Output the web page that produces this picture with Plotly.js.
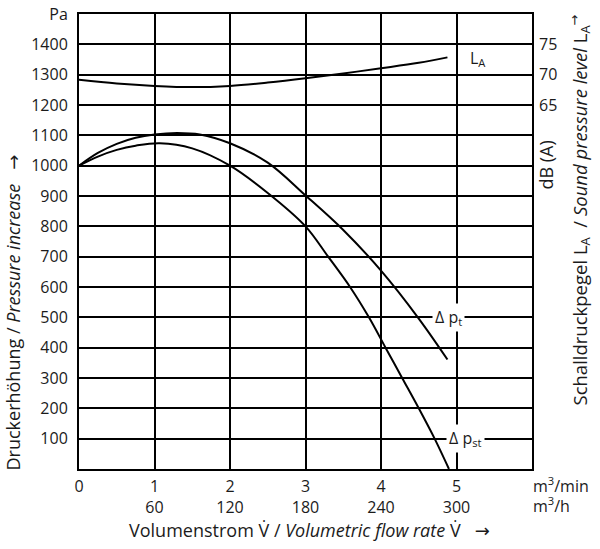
<!DOCTYPE html>
<html>
<head>
<meta charset="utf-8">
<script src="https://cdn.plot.ly/plotly-3.0.1.min.js"></script>
<style>
  html, body { margin: 0; padding: 0; background: #fff; }
  #chart { width: 600px; height: 549px; }
</style>
</head>
<body>
<div id="chart"></div>
<script>
// Fan characteristic: flow rate in m³/min
const flowTotal = [0, 0.25, 0.5, 0.75, 1.0, 1.3, 1.6, 2.0, 2.5, 3.0, 3.5, 4.0, 4.5, 4.88];
const pressureTotal = [1000, 1042, 1072, 1092, 1103, 1108, 1103, 1074, 1010, 902, 788, 654, 496, 361];

const flowStatic = [0, 0.25, 0.5, 0.75, 1.07, 1.5, 2.0, 2.5, 3.0, 3.3, 3.59, 3.84, 4.06, 4.28, 4.5, 4.71, 4.9];
const pressureStatic = [1000, 1030, 1052, 1066, 1074, 1057, 1000, 910, 800, 700, 600, 500, 400, 300, 200, 100, 0];

// Sound pressure level in dB(A)
const flowSound = [0, 0.5, 1.0, 1.5, 2.0, 2.5, 3.0, 3.5, 4.0, 4.5, 4.88];
const soundLevel = [69.15, 68.55, 68.15, 67.95, 68.15, 68.7, 69.4, 70.2, 71.05, 71.95, 72.85];

// Axis ticks
const flowTicks = [0, 1, 2, 3, 4, 5];
const flowTickText = ["0", "1<br>60", "2<br>120", "3<br>180", "4<br>240", "5<br>300"];
const pressureTicks = [100, 200, 300, 400, 500, 600, 700, 800, 900, 1000, 1100, 1200, 1300, 1400, 1500];
const pressureTickText = ["100", "200", "300", "400", "500", "600", "700", "800", "900", "1000", "1100", "1200", "1300", "1400", "Pa"];
const soundTicks = [65, 70, 75];

const FONT = "Open Sans, Noto Sans, sans-serif";
const INK = "#1b1b1b";
const ARROW = '<span style="font-family:DejaVu Sans">→</span>';

const curve = { color: "#000", width: 2, shape: "spline", smoothing: 1 };

const traces = [
  { x: flowTotal, y: pressureTotal, type: "scatter", mode: "lines", line: curve, hoverinfo: "skip" },
  { x: flowStatic, y: pressureStatic, type: "scatter", mode: "lines", line: curve, hoverinfo: "skip" },
  { x: flowSound, y: soundLevel, type: "scatter", mode: "lines", line: curve, yaxis: "y2", hoverinfo: "skip" }
];

const tickFont = { family: FONT, size: 16, color: INK };
const titleFont = { family: FONT, size: 18, color: INK };

const layout = {
  width: 600,
  height: 549,
  margin: { l: 79, r: 68, t: 14, b: 80 },
  paper_bgcolor: "#fff",
  plot_bgcolor: "#fff",
  showlegend: false,
  font: { family: FONT, size: 16, color: INK },
  xaxis: {
    range: [0, 6],
    tickvals: flowTicks,
    ticktext: flowTickText,
    ticks: "",
    ticklabelstandoff: 2,
    showgrid: true,
    gridcolor: "#000",
    gridwidth: 2,
    zeroline: false,
    showline: true,
    mirror: true,
    linecolor: "#000",
    linewidth: 2,
    tickfont: tickFont,
    fixedrange: true
  },
  yaxis: {
    range: [0, 1500],
    tickvals: pressureTicks,
    ticktext: pressureTickText,
    ticks: "",
    ticklabelstandoff: 6,
    showgrid: true,
    gridcolor: "#000",
    gridwidth: 2,
    zeroline: false,
    showline: true,
    mirror: true,
    linecolor: "#000",
    linewidth: 2,
    tickfont: tickFont,
    fixedrange: true
  },
  yaxis2: {
    overlaying: "y",
    side: "right",
    range: [5, 80],
    tickvals: soundTicks,
    ticks: "",
    ticklabelstandoff: 6,
    showgrid: false,
    zeroline: false,
    showline: false,
    tickfont: tickFont,
    fixedrange: true
  },
  annotations: [
    // curve labels
    { x: 5.28, y: 72.6, xref: "x", yref: "y2", text: "L<sub>A</sub>", showarrow: false, font: tickFont },
    { x: 4.89, y: 500, xref: "x", yref: "y", text: "Δ p<sub>t</sub>", showarrow: false, font: tickFont, bgcolor: "#fff", borderpad: 2 },
    { x: 5.12, y: 100, xref: "x", yref: "y", text: "Δ p<sub>st</sub>", showarrow: false, font: tickFont, bgcolor: "#fff", borderpad: 2 },
    // flow units
    { x: 1, y: 0, xref: "paper", yref: "paper", xanchor: "left", yanchor: "middle", xshift: -1, yshift: -16,
      text: "m<sup>3</sup>/min", showarrow: false, font: tickFont },
    { x: 1, y: 0, xref: "paper", yref: "paper", xanchor: "left", yanchor: "middle", xshift: -1, yshift: -36,
      text: "m<sup>3</sup>/h", showarrow: false, font: tickFont },
    // axis titles
    { x: 0.5, y: 0, xref: "paper", yref: "paper", xanchor: "center", yanchor: "middle", yshift: -61, xshift: 4,
      text: "Volumenstrom V̇ / <i>Volumetric flow rate</i> V̇   " + ARROW, showarrow: false, font: titleFont },
    { x: 0, y: 0.5, xref: "paper", yref: "paper", xanchor: "center", yanchor: "middle", xshift: -67, yshift: -71,
      textangle: -90, text: "Druckerhöhung / <i>Pressure increase</i>   " + ARROW, showarrow: false, font: titleFont },
    { x: 1, y: 0.5, xref: "paper", yref: "paper", xanchor: "center", yanchor: "middle", xshift: 13, yshift: 76,
      textangle: -90, text: "dB (A)", showarrow: false, font: titleFont },
    { x: 1, y: 0.5, xref: "paper", yref: "paper", xanchor: "center", yanchor: "middle", xshift: 48, yshift: 31,
      textangle: -90, text: "Schalldruckpegel L<sub>A</sub>  / <i>Sound pressure level</i> L<sub>A</sub><sup>" + ARROW + "</sup>",
      showarrow: false, font: { family: FONT, size: 18.5, color: INK } }
  ]
};

Plotly.newPlot("chart", traces, layout, { displayModeBar: false, staticPlot: true });
</script>
</body>
</html>
